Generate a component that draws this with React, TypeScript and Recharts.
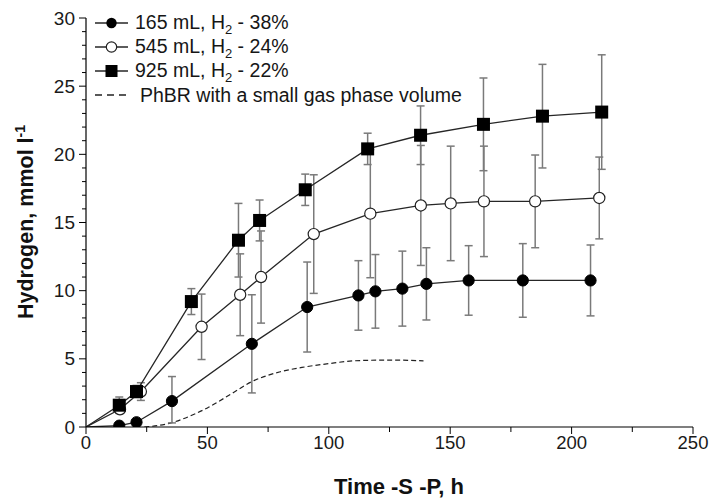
import React from 'react';
import { LineChart, Line, XAxis, YAxis, ErrorBar, Legend } from 'recharts';

const FONT = '"Liberation Sans", Arial, Helvetica, sans-serif';

// 165 mL, H2 - 38% (filled circles)
const timeA = [0, 13.7, 20.8, 35.4, 68.3, 91.1, 112.2, 119.2, 130.3, 140.2, 157.6, 179.9, 207.8];
const valA = [0, 0.1, 0.35, 1.9, 6.1, 8.8, 9.65, 9.95, 10.15, 10.5, 10.75, 10.75, 10.75];
const errA: (number | [number, number])[] = [0, 0, 0, [1.6, 1.8], 3.6, 3.3, 2.55, 2.7, 2.75, 2.65, 2.55, 2.7, 2.6];

// 545 mL, H2 - 24% (open circles)
const timeB = [0, 14, 22.6, 47.6, 63.5, 72.1, 93.8, 117.1, 137.9, 150.2, 163.9, 185, 211.4];
const valB = [0, 1.3, 2.6, 7.35, 9.7, 11.0, 14.15, 15.65, 16.25, 16.4, 16.55, 16.55, 16.8];
const errB: (number | [number, number])[] = [0, 0.3, 0.65, 2.4, 3.0, 3.38, 4.35, 4.7, 4.4, 4.2, 4.05, 3.4, 3.0];

// 925 mL, H2 - 22% (filled squares)
const timeC = [0, 13.7, 20.8, 43.4, 62.8, 71.5, 90.3, 116, 137.8, 163.7, 188, 212.4];
const valC = [0, 1.6, 2.6, 9.2, 13.7, 15.15, 17.4, 20.4, 21.4, 22.2, 22.8, 23.1];
const errC: (number | [number, number])[] = [0, 0.6, 0.45, 0.95, 2.7, 1.5, 1.15, 1.15, 2.15, 3.4, 3.8, 4.2];

// PhBR with a small gas phase volume (dashed)
const timeD = [24, 35, 40, 50, 60, 68, 80, 90, 100, 110, 120, 130, 139];
const valD = [0, 0.3, 0.6, 1.4, 2.45, 3.3, 4.05, 4.4, 4.65, 4.85, 4.9, 4.9, 4.85];

const xTicks = [0, 25, 50, 75, 100, 125, 150, 175, 200, 225, 250];
const yTicks = Array.from({ length: 31 }, (_, i) => i);

const legendLabels = [
  { pre: '165 mL, H', sub: '2', post: ' - 38%', kind: 'filled' },
  { pre: '545 mL, H', sub: '2', post: ' - 24%', kind: 'open' },
  { pre: '925 mL, H', sub: '2', post: ' - 22%', kind: 'square' },
  { pre: 'PhBR with a small gas phase volume', sub: '', post: '', kind: 'dash' },
];

const build = (t: number[], v: number[], e?: (number | [number, number])[]) =>
  t.map((x, i) => ({ t: x, v: v[i], e: e ? e[i] : undefined }));

const dataA = build(timeA, valA, errA);
const dataB = build(timeB, valB, errB);
const dataC = build(timeC, valC, errC);
const dataD = build(timeD, valD);

const LINE = '#262626';
const ERR = '#7a7a7a';

const makeDot = (kind: string) => (props: any) => {
  const { cx, cy, index } = props;
  const key = `dot-${kind}-${index}`;
  if (index === 0 || cx == null || cy == null) return <g key={key} />;
  if (kind === 'filled') return <circle key={key} cx={cx} cy={cy} r={5.6} fill="#000" stroke="#000" strokeWidth={1} />;
  if (kind === 'open') return <circle key={key} cx={cx} cy={cy} r={5.6} fill="#fff" stroke="#222" strokeWidth={1.2} />;
  return <rect key={key} x={cx - 6.5} y={cy - 6.5} width={13} height={13} fill="#000" />;
};

const YTick = (props: any) => {
  const { x, y, payload } = props;
  const v = payload.value;
  const major = v % 5 === 0;
  return (
    <g>
      <line x1={x} x2={x - (major ? 7 : 4)} y1={y} y2={y} stroke="#000" strokeWidth={1} />
      {major && (
        <text x={x - 11} y={y} dy="0.35em" textAnchor="end" fontSize={19} fontFamily={FONT} fill="#1a1a1a">
          {v}
        </text>
      )}
    </g>
  );
};

const XTick = (props: any) => {
  const { x, y, payload } = props;
  const v = payload.value;
  const major = v % 50 === 0;
  return (
    <g>
      <line x1={x} x2={x} y1={y} y2={y + (major ? 7 : 5)} stroke="#000" strokeWidth={1} />
      {major && (
        <text x={x} y={y + 22} textAnchor="middle" fontSize={18.5} fontFamily={FONT} fill="#1a1a1a">
          {v}
        </text>
      )}
    </g>
  );
};

const LegendMarker = ({ kind }: { kind: string }) => {
  if (kind === 'dash') {
    return (
      <svg width={45} height={24} style={{ display: 'block', flex: 'none' }}>
        <line x1={0} x2={31} y1={12} y2={12} stroke="#222" strokeWidth={1.4} strokeDasharray="7 5" />
      </svg>
    );
  }
  return (
    <svg width={40} height={24} style={{ display: 'block', flex: 'none' }}>
      <line x1={0} x2={33} y1={12} y2={12} stroke={LINE} strokeWidth={1.4} />
      {kind === 'filled' && <circle cx={16.5} cy={12} r={5.2} fill="#000" />}
      {kind === 'open' && <circle cx={16.5} cy={12} r={5.2} fill="#fff" stroke="#222" strokeWidth={1.2} />}
      {kind === 'square' && <rect x={10.5} y={6} width={12} height={12} fill="#000" />}
    </svg>
  );
};

const LegendContent = () => (
  <div style={{ fontFamily: FONT, fontSize: 19.5, color: '#161616' }}>
    {legendLabels.map((it) => (
      <div key={it.pre} style={{ display: 'flex', alignItems: 'center', height: 24, whiteSpace: 'nowrap' }}>
        <LegendMarker kind={it.kind} />
        <span style={{ lineHeight: '24px' }}>
          {it.pre}
          {it.sub && (
            <span style={{ fontSize: 13, position: 'relative', top: 5 }}>{it.sub}</span>
          )}
          {it.post}
        </span>
      </div>
    ))}
  </div>
);

export default function App() {
  return (
    <div style={{ position: 'absolute', left: 0, top: 0, width: 709, height: 500, background: '#fff' }}>
      <LineChart width={709} height={500} margin={{ top: 18, right: 16, bottom: 0, left: 0 }}>
        <XAxis
          type="number"
          dataKey="t"
          domain={[0, 250]}
          ticks={xTicks}
          interval={0}
          height={73}
          tickSize={0}
          tickMargin={0}
          tickLine={false}
          tick={<XTick />}
          axisLine={{ stroke: '#000', strokeWidth: 1.2 }}
          allowDataOverflow
          label={{
            content: () => (
              <text x={399} y={494} textAnchor="middle" fontSize={22} fontWeight="bold" fontFamily={FONT} fill="#111">
                Time -S -P, h
              </text>
            ),
          }}
        />
        <YAxis
          type="number"
          domain={[0, 30]}
          ticks={yTicks}
          interval={0}
          width={86}
          tickSize={0}
          tickMargin={0}
          tickLine={false}
          tick={<YTick />}
          axisLine={{ stroke: '#000', strokeWidth: 1.2 }}
          allowDataOverflow
          label={{
            content: () => (
              <text
                x={33}
                y={222}
                transform="rotate(-90 33 222)"
                textAnchor="middle"
                fontSize={21.5}
                fontWeight="bold"
                fontFamily={FONT}
                fill="#111"
              >
                Hydrogen, mmol l
                <tspan fontSize={14} dy={-8}>-1</tspan>
              </text>
            ),
          }}
        />
        <Legend
          layout="vertical"
          align="center"
          verticalAlign="middle"
          content={<LegendContent />}
          wrapperStyle={{ top: 11, left: 95, width: 'auto' }}
        />
        <Line
          data={dataD}
          dataKey="v"
          type="monotone"
          stroke="#222"
          strokeWidth={1.2}
          strokeDasharray="5 3"
          dot={false}
          activeDot={false}
          isAnimationActive={false}
        />
        <Line
          data={dataA}
          dataKey="v"
          type="linear"
          stroke={LINE}
          strokeWidth={1.3}
          dot={makeDot('filled')}
          activeDot={false}
          isAnimationActive={false}
        >
          <ErrorBar dataKey="e" direction="y" width={4} stroke={ERR} strokeWidth={1.5} />
        </Line>
        <Line
          data={dataB}
          dataKey="v"
          type="linear"
          stroke={LINE}
          strokeWidth={1.3}
          dot={makeDot('open')}
          activeDot={false}
          isAnimationActive={false}
        >
          <ErrorBar dataKey="e" direction="y" width={4} stroke={ERR} strokeWidth={1.5} />
        </Line>
        <Line
          data={dataC}
          dataKey="v"
          type="linear"
          stroke={LINE}
          strokeWidth={1.3}
          dot={makeDot('square')}
          activeDot={false}
          isAnimationActive={false}
        >
          <ErrorBar dataKey="e" direction="y" width={4} stroke={ERR} strokeWidth={1.5} />
        </Line>
      </LineChart>
    </div>
  );
}
